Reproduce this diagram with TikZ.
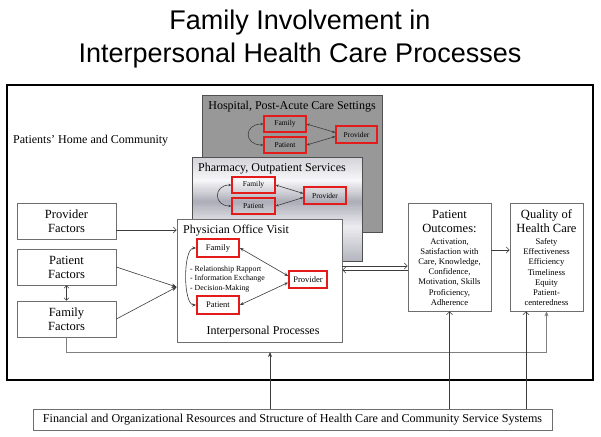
\documentclass[tikz,border=0pt]{standalone}
\usepackage{fontspec}
\setmainfont{Liberation Serif}
\newfontfamily\titlefont{Liberation Sans}
\usetikzlibrary{arrows.meta,calc}
\definecolor{boxline}{HTML}{6E6E6E}
\definecolor{conncol}{HTML}{3C3C3C}
\definecolor{buscol}{HTML}{808080}
\definecolor{redb}{HTML}{E41B1B}
\definecolor{hospfill}{HTML}{989898}
\definecolor{hospline}{HTML}{505050}
\definecolor{m1}{HTML}{D2D2D8}
\definecolor{m2}{HTML}{F8F8FA}
\definecolor{m3}{HTML}{ADADB8}
\definecolor{m4}{HTML}{ECECF0}
\definecolor{m5}{HTML}{B4B4BE}
\begin{document}
\begin{tikzpicture}[x=1pt,y=-1pt,
  box/.style={draw=boxline, line width=0.7pt, fill=white, inner sep=0pt, align=center},
  rbox/.style={draw=redb, line width=1.3pt, inner sep=0pt},
  rboxbig/.style={draw=redb, line width=1.6pt, fill=white, inner sep=0pt, font=\fontsize{8.5}{10}\selectfont},
  rboxsmall/.style={rbox, font=\fontsize{7.5}{9}\selectfont},
  conn/.style={draw=conncol, line width=0.6pt},
  solidtip/.style={arrows={-Stealth[length=5pt,width=4pt]}},
  opentip/.style={arrows={-Straight Barb[length=3pt,width=6pt]}},
  openboth/.style={arrows={Straight Barb[length=2.5pt,width=5pt]-Straight Barb[length=2.5pt,width=5pt]}},
  bothtips/.style={arrows={Stealth[length=4pt,width=3pt]-Stealth[length=4pt,width=3pt]}},
  smalltips/.style={arrows={Stealth[length=3pt,width=2.5pt]-Stealth[length=3pt,width=2.5pt]}},
  factor/.style={box, minimum width=99pt, minimum height=36pt, font=\fontsize{12.5}{14}\selectfont},
  head/.style={font=\fontsize{12.5}{14}\selectfont, align=center, inner sep=0pt},
  detail/.style={font=\fontsize{8.6}{10.2}\selectfont, align=center, inner sep=0pt},
  ttl/.style={font=\fontsize{12}{14}\selectfont, inner sep=0pt}
]
\useasboundingbox (0,0) rectangle (601,436);
\fill[white] (0,0) rectangle (601,436);

% title
\node[anchor=base, font=\titlefont\fontsize{27}{32}\selectfont, inner sep=0pt] (t1) at (300,30) {Family Involvement in};
\node[anchor=base, font=\titlefont\fontsize{27}{32}\selectfont, inner sep=0pt] (t2) at (300,62) {Interpersonal Health Care Processes};

% outer frame
\node[draw=black, line width=1.3pt, minimum width=586pt, minimum height=295pt, inner sep=0pt] (frame) at (300,232.5) {};
\node[ttl, anchor=base west] (home) at (13,143) {Patients' Home and Community};

% hospital
\node[draw=hospline, fill=hospfill, line width=0.7pt, minimum width=180pt, minimum height=137pt, inner sep=0pt] (hosp) at (292,163.5) {};
\node[ttl, anchor=base] (hospt) at (292,109) {Hospital, Post-Acute Care Settings};
\node[rboxsmall, minimum width=42pt, minimum height=16pt] (hf) at (285,124) {Family};
\node[rboxsmall, minimum width=42pt, minimum height=16pt] (hp) at (285,145) {Patient};
\node[rboxsmall, minimum width=41pt, minimum height=17pt] (hv) at (356.5,134.5) {Provider};
\draw[conn, smalltips] (hf.west) to[out=180,in=180,looseness=2.4] (hp.west);
\draw[conn, smalltips] (hf.east) -- ([yshift=2pt]hv.west);
\draw[conn, smalltips] (hp.east) -- ([yshift=-2pt]hv.west);

% pharmacy (metallic gradient, drawn as thin bands)
\foreach \ca/\cb/\ya/\yb in {m1/m2/157/180, m2/m3/180/201, m3/m4/201/226, m4/m5/226/261}{
  \foreach \t in {0,5,...,95}{
    \fill[\cb!\t!\ca] (192,{\ya+(\yb-\ya)*\t/100}) rectangle (362,{\ya+(\yb-\ya)*(\t+5.6)/100});
  }
}
\node[draw=hospline, line width=0.7pt, minimum width=170pt, minimum height=104pt, inner sep=0pt] (pharm) at (277,209) {};
\node[ttl, anchor=base] (pharmt) at (272,171) {Pharmacy, Outpatient Services};
\node[rboxsmall, minimum width=43pt, minimum height=16pt] (pf1) at (253.5,185) {Family};
\node[rboxsmall, minimum width=43pt, minimum height=16pt] (pp1) at (253.5,206) {Patient};
\node[rboxsmall, minimum width=42pt, minimum height=17pt] (pv1) at (325,195.5) {Provider};
\draw[conn, smalltips] (pf1.west) to[out=180,in=180,looseness=2.2] (pp1.west);
\draw[conn, smalltips] (pf1.east) -- ([yshift=2pt]pv1.west);
\draw[conn, smalltips] (pp1.east) -- ([yshift=-2pt]pv1.west);

% physician
\node[box, minimum width=165pt, minimum height=123pt] (phys) at (259.5,280.5) {};
\node[ttl, anchor=base west] (physt) at (183,233) {Physician Office Visit};
\node[rboxbig, minimum width=42pt, minimum height=18pt] (phf) at (218,248) {Family};
\node[rboxbig, minimum width=42pt, minimum height=18pt] (php) at (218,305) {Patient};
\node[rboxbig, minimum width=38pt, minimum height=17pt] (phv) at (308,279.5) {Provider};
\draw[conn, bothtips] (phf.west) to[out=180,in=180,looseness=0.6] (php.west);
\draw[conn, bothtips] (phf.east) -- ([yshift=3.5pt]phv.west);
\draw[conn, bothtips] (php.east) -- ([yshift=-3pt]phv.west);
\node[anchor=north west, align=left, inner sep=0pt, font=\fontsize{7.8}{9.5}\selectfont] (bul) at (190,265.5) {- Relationship Rapport\\- Information Exchange\\- Decision-Making};
\node[ttl, anchor=base] (interp) at (263,334) {Interpersonal Processes};

% factors
\node[factor] (pfac) at (66.5,221) {Provider\\Factors};
\node[factor] (pafac) at (66.5,267) {Patient\\Factors};
\node[factor] (ffac) at (66.5,319) {Family\\Factors};

% outcomes and quality
\node[box, minimum width=83pt, minimum height=108pt] (po) at (449.5,257) {};
\node[head, anchor=north] (poh) at (449.5,209.7) {Patient\\Outcomes:};
\node[detail, anchor=north] (pod) at (449.5,238.2) {Activation,\\Satisfaction with\\Care, Knowledge,\\Confidence,\\Motivation, Skills\\Proficiency,\\Adherence};
\node[box, minimum width=73pt, minimum height=108pt] (qh) at (546.5,257) {};
\node[head, anchor=north] (qhh) at (546.5,209.7) {Quality of\\Health Care};
\node[detail, anchor=north] (qhd) at (546.5,238.2) {Safety\\Effectiveness\\Efficiency\\Timeliness\\Equity\\Patient-\\centeredness};

% bottom
\node[box, minimum width=519pt, minimum height=21pt, font=\fontsize{12.1}{14}\selectfont] (bb) at (292.5,419.5) {Financial and Organizational Resources and Structure of Health Care and Community Service Systems};

% connectors
\coordinate (c1) at ([yshift=-9pt]pfac.east);
\draw[conn, opentip] (c1) -- (c1 -| phys.west);
\coordinate (meet) at ([yshift=-6.5pt]phys.west);
\draw[conn, solidtip] (pafac.east) -- (meet);
\draw[conn, solidtip] (ffac.east) -- (meet);
\draw[conn, openboth] (pafac.south) -- (ffac.north);
\draw[conn, draw=buscol, solidtip] (ffac.south) -- ++(0,15) -| (qh.south);
\coordinate (o1) at ([yshift=14.5pt]phys.east);
\coordinate (o2) at ([yshift=10.5pt]phys.east);
\draw[conn, opentip] (o1) -- (o1 -| po.west);
\draw[conn, opentip] (o2 -| po.west) -- (o2);
\coordinate (oq) at ([yshift=7pt]po.east);
\draw[conn, opentip] (oq) -- (oq -| qh.west);
\coordinate (bus) at (0,352);
\coordinate (x270) at (270,0);
\coordinate (x526) at (526,0);
\draw[conn, solidtip] (x270 |- bb.north) -- (x270 |- bus);
\draw[conn, opentip] (po.south |- bb.north) -- (po.south);
\draw[conn, opentip] (x526 |- bb.north) -- (x526 |- qh.south);
\end{tikzpicture}
\end{document}
